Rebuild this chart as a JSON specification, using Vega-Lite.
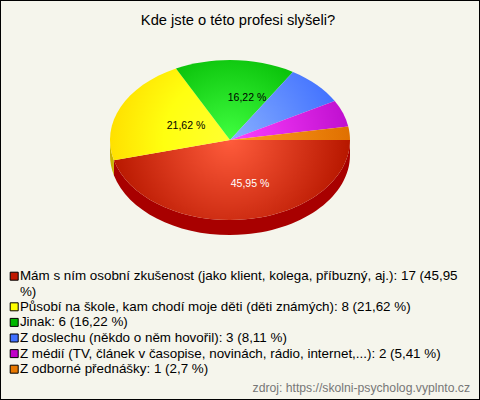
{
"$schema":"https://vega.github.io/schema/vega-lite/v6.json",
"width":480,"height":400,"padding":0,"autosize":{"type":"none"},
"background":"#f5f5ec",
"view":{"stroke":"#000000","strokeWidth":2},
"config":{"font":"Liberation Sans"},
"title":{"text":"Kde jste o této profesi slyšeli?","fontSize":14.7,"fontWeight":"normal","font":"Liberation Sans","color":"#000000","anchor":"middle","offset":-28,"dx":-2},
"data":{"values":[
{"legenda":"Mám s ním osobní zkušenost (jako klient, kolega, příbuzný, aj.): 17 (45,95\n%)","pocet":17,"podil":"45,95 %"},
{"legenda":"Působí na škole, kam chodí moje děti (děti známých): 8 (21,62 %)","pocet":8,"podil":"21,62 %"},
{"legenda":"Jinak: 6 (16,22 %)","pocet":6,"podil":"16,22 %"},
{"legenda":"Z doslechu (někdo o něm hovořil): 3 (8,11 %)","pocet":3,"podil":"8,11 %"},
{"legenda":"Z médií (TV, článek v časopise, novinách, rádio, internet,...): 2 (5,41 %)","pocet":2,"podil":"5,41 %"},
{"legenda":"Z odborné přednášky: 1 (2,7 %)","pocet":1,"podil":"2,7 %"}
]},
"layer":[
{"mark":{"type":"point","filled":true,"size":0,"opacity":1},
 "encoding":{"color":{"field":"legenda","type":"nominal","sort":null,
  "scale":{"range":["#c01800","#ffff00","#00b800","#4070ff","#c000c8","#e87800"]},
  "legend":{"title":null,"orient":"none","legendX":7.5,"legendY":269.5,"symbolType":"square","symbolSize":64,"symbolStrokeColor":"#000000","symbolStrokeWidth":1,"symbolOpacity":1,"labelFontSize":13.4,"labelFont":"Liberation Sans","labelColor":"#000000","labelLimit":480,"labelOffset":-1,"rowPadding":0.6,"labelExpr":"split(datum.label,'\\n')","encoding":{"labels":{"update":{"lineHeight":{"value":14}}}}}}}},
{"transform":[{"filter":"datum.pocet==17"}],"mark":{"type":"point","filled":true,"opacity":1,"size":4,"fill":"#a80000","stroke":null,"shape":"M110,-60 A120,80 0 0 1 -126.13,-39.84 L-126.13,-24.84 A120,80 0 0 0 110,-45 Z"}},
{"transform":[{"filter":"datum.pocet==8"}],"mark":{"type":"point","filled":true,"opacity":1,"size":4,"fill":"#c8b400","stroke":null,"shape":"M-126.13,-39.84 A120,80 0 0 1 -130,-60 L-130,-45 A120,80 0 0 0 -126.13,-24.84 Z"}},
{"transform":[{"filter":"datum.pocet==17"}],"mark":{"type":"point","filled":true,"opacity":1,"size":4,"stroke":null,"shape":"M-10,-60 L110,-60 A120,80 0 0 1 -126.13,-39.84 Z",
 "fill":{"gradient":"radial","x1":0.49,"y1":0.33,"r1":0,"x2":0.49,"y2":0.33,"r2":0.5,"stops":[{"offset":0,"color":"#ff5c3c"},{"offset":1,"color":"#b81800"}]}}},
{"transform":[{"filter":"datum.pocet==8"}],"mark":{"type":"point","filled":true,"opacity":1,"size":4,"stroke":null,"shape":"M-10,-60 L-126.13,-39.84 A120,80 0 0 1 -64.02,-131.43 Z",
 "fill":{"gradient":"radial","x1":1,"y1":0.7125,"r1":0,"x2":1,"y2":0.7125,"r2":1,"stops":[{"offset":0,"color":"#ffff30"},{"offset":0.55,"color":"#ffff10"},{"offset":1,"color":"#ffe000"}]}}},
{"transform":[{"filter":"datum.pocet==6"}],"mark":{"type":"point","filled":true,"opacity":1,"size":4,"stroke":null,"shape":"M-10,-60 L-64.02,-131.43 A120,80 0 0 1 52.94,-128.12 Z",
 "fill":{"gradient":"radial","x1":0.46,"y1":0.84,"r1":0,"x2":0.46,"y2":0.84,"r2":0.75,"stops":[{"offset":0,"color":"#40ff40"},{"offset":1,"color":"#0cc40c"}]}}},
{"transform":[{"filter":"datum.pocet==3"}],"mark":{"type":"point","filled":true,"opacity":1,"size":4,"stroke":null,"shape":"M-10,-60 L52.94,-128.12 A120,80 0 0 1 94.75,-99.03 Z",
 "fill":{"gradient":"radial","x1":0,"y1":0.82,"r1":0,"x2":0,"y2":0.82,"r2":1.1,"stops":[{"offset":0,"color":"#88b0ff"},{"offset":1,"color":"#4070ff"}]}}},
{"transform":[{"filter":"datum.pocet==2"}],"mark":{"type":"point","filled":true,"opacity":1,"size":4,"stroke":null,"shape":"M-10,-60 L94.75,-99.03 A120,80 0 0 1 108.27,-73.52 Z",
 "fill":{"gradient":"radial","x1":0,"y1":0.665,"r1":0,"x2":0,"y2":0.665,"r2":1,"stops":[{"offset":0,"color":"#ff40ff"},{"offset":1,"color":"#c010d0"}]}}},
{"transform":[{"filter":"datum.pocet==1"}],"mark":{"type":"point","filled":true,"opacity":1,"size":4,"stroke":null,"shape":"M-10,-60 L108.27,-73.52 A120,80 0 0 1 110,-60 Z",
 "fill":{"gradient":"radial","x1":0,"y1":0.558,"r1":0,"x2":0,"y2":0.558,"r2":1,"stops":[{"offset":0,"color":"#ffa020"},{"offset":1,"color":"#e07000"}]}}},
{"transform":[{"filter":"datum.pocet==17"}],"mark":{"type":"text","dx":10,"dy":-16,"fontSize":10.5,"font":"Liberation Sans","color":"#ffffff"},"encoding":{"text":{"field":"podil"}}},
{"transform":[{"filter":"datum.pocet==8"}],"mark":{"type":"text","dx":-54,"dy":-74,"fontSize":10.5,"font":"Liberation Sans","color":"#000000"},"encoding":{"text":{"field":"podil"}}},
{"transform":[{"filter":"datum.pocet==6"}],"mark":{"type":"text","dx":7,"dy":-102,"fontSize":10.5,"font":"Liberation Sans","color":"#000000"},"encoding":{"text":{"field":"podil"}}},
{"data":{"values":[{"zdroj":"zdroj: https://skolni-psycholog.vyplnto.cz"}]},"mark":{"type":"text","dx":230,"dy":188,"align":"right","fontSize":12.2,"font":"Liberation Sans","color":"#777777"},"encoding":{"text":{"field":"zdroj"}}}
]
}
